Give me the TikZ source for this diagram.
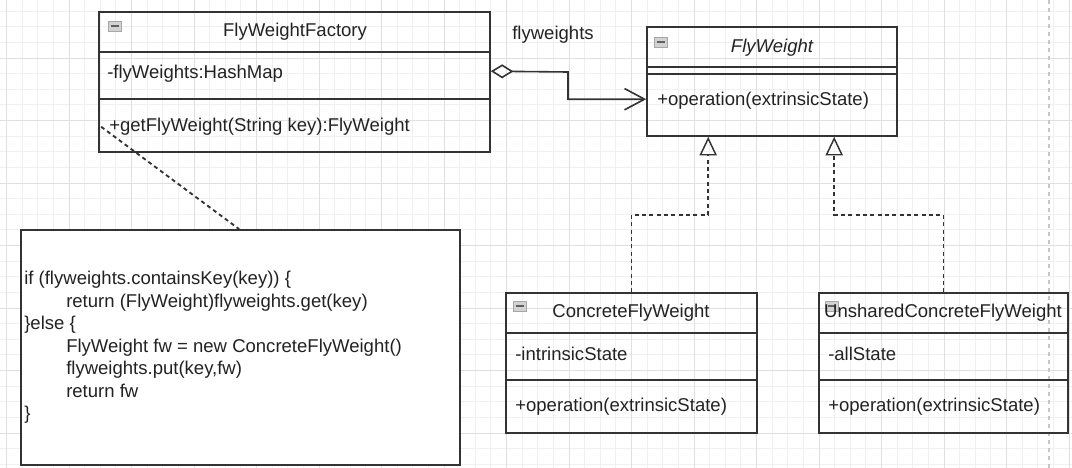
\documentclass[tikz,border=0pt]{standalone}
\usepackage{fontspec}
\setmainfont{Liberation Sans}
\usetikzlibrary{arrows.meta,fit,calc}
\definecolor{edge}{HTML}{333333}
\definecolor{gmin}{HTML}{F0F0F0}
\definecolor{gmaj}{HTML}{E0E0E0}
\definecolor{ink}{HTML}{222222}
\begin{document}
\begin{tikzpicture}[x=0.75pt,y=-0.75pt,
  txt/.style={font=\fontsize{13.9}{16.9}\selectfont, inner sep=0pt, text=ink},
  cls/.style={draw=edge, line width=1.2pt, inner sep=0pt},
  sepline/.style={draw=edge, line width=1.2pt},
  agg/.style={draw=edge, line width=1.2pt, {Diamond[open,length=17pt,width=10.5pt]}-{Straight Barb[length=15pt,width=16pt]}},
  real/.style={draw=edge, line width=1.4pt, dash pattern=on 3pt off 2.5pt, -{Triangle[open,length=14pt,width=13pt,line width=1.1pt]}},
  notelink/.style={draw=edge, line width=1.4pt, dash pattern=on 3pt off 2.5pt},
  icon/.pic={\draw[draw=gray!70, fill=gray!35, line width=0.5pt] (0,0) rectangle (13,10);
             \draw[gray!75!black, line width=1.4pt] (2.5,5) -- (10.5,5);}
]
\useasboundingbox (0,0) rectangle (1072,468);
% grid
\begin{scope}
\clip (0,0) rectangle (1072,468);
\foreach \i in {0,...,69} \draw[gmin, line width=0.75pt] ({-9.125+\i*15.625},0) -- ++(0,468);
\foreach \j in {0,...,30} \draw[gmin, line width=0.75pt] (0,{-4.5+\j*15.625}) -- ++(1072,0);
\foreach \k in {0,...,17} \draw[gmaj, line width=0.75pt] ({6.5+\k*62.5},0) -- ++(0,468);
\foreach \k in {0,...,7} \draw[gmaj, line width=0.75pt] (0,{-4.5+\k*62.5}) -- ++(1072,0);
\end{scope}
\draw[gray!45, line width=1pt, dash pattern=on 3pt off 3pt] (1049,0) -- (1049,468);

% FlyWeightFactory
\node[cls, fit={(99,12) (490,152)}] (fac) {};
\draw[sepline] (99,52) -- (490,52);
\draw[sepline] (99,99) -- (490,99);
\pic at (108,21) {icon};
\node[txt] (facT) at (295,32) {FlyWeightFactory};
\node[txt, anchor=west] (facA) at (107,74) {-flyWeights:HashMap};
\node[txt, anchor=west] (facM) at (109,127) {+getFlyWeight(String key):FlyWeight};

% FlyWeight
\node[cls, fit={(647,27) (897,136)}] (fw) {};
\draw[sepline] (647,67) -- (897,67);
\draw[sepline] (647,74) -- (897,74);
\pic at (654,37) {icon};
\node[txt, font=\fontsize{13.9}{16.9}\selectfont\itshape] (fwT) at (772,48) {FlyWeight};
\node[txt, anchor=west] (fwM) at (657,101) {+operation(extrinsicState)};

% ConcreteFlyWeight
\node[cls, fit={(506,293) (757,433)}] (cfw) {};
\draw[sepline] (506,333) -- (757,333);
\draw[sepline] (506,380) -- (757,380);
\pic at (513,301) {icon};
\node[txt] (cfwT) at (631,313) {ConcreteFlyWeight};
\node[txt, anchor=west] (cfwA) at (515,354) {-intrinsicState};
\node[txt, anchor=west] (cfwM) at (515,407) {+operation(extrinsicState)};

% UnsharedConcreteFlyWeight
\node[cls, fit={(819,293) (1068,433)}] (ufw) {};
\draw[sepline] (819,333) -- (1068,333);
\draw[sepline] (819,380) -- (1068,380);
\pic at (825,301) {icon};
\node[txt] (ufwT) at (943,313) {UnsharedConcreteFlyWeight};
\node[txt, anchor=west] (ufwA) at (828,354) {-allState};
\node[txt, anchor=west] (ufwM) at (828,407) {+operation(extrinsicState)};

% code note
\node[draw=edge, fill=white, line width=1.3pt, inner sep=0pt, fit={(21,230) (460,465)}] (code) {};
\node[txt, anchor=west, align=left] (codeT) at (24,347.5) {%
if (flyweights.containsKey(key)) \{\\
\hspace*{31.5pt}return (FlyWeight)flyweights.get(key)\\
\}else \{\\
\hspace*{31.5pt}FlyWeight fw = new ConcreteFlyWeight()\\
\hspace*{31.5pt}flyweights.put(key,fw)\\
\hspace*{31.5pt}return fw\\
\}};

% connectors
\draw[agg] ($(fac.north east)+(0,60)$) -- (568,72) |- ($(fw.north west)+(0,73)$);
\node[txt] (aggL) at (553,35) {flyweights};
\draw[real] (cfw.north) |- ($(fw.south west)+(62,78)$) -- ($(fw.south west)+(62,0)$);
\draw[real] (ufw.north) |- ($(fw.south west)+(188,78)$) -- ($(fw.south west)+(188,0)$);
\draw[notelink] ($(fac.south west)+(3,-26)$) -- ($(code.north west)+(219,0)$);
\end{tikzpicture}
\end{document}
